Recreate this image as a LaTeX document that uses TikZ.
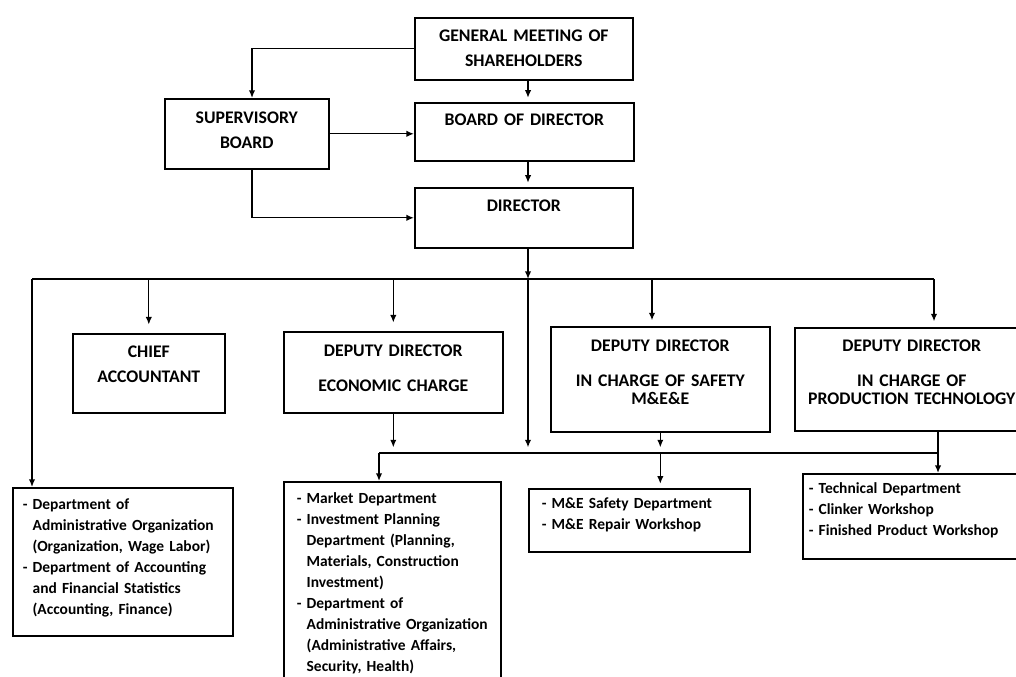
\documentclass[tikz,border=0pt]{standalone}
\usepackage{fontspec}
\setmainfont{Carlito}
\usetikzlibrary{arrows.meta,positioning}

\tikzset{
  orgbox/.style={draw=black,line width=1.1pt,anchor=north west,align=center,inner xsep=0pt,inner ysep=0pt,font=\fontsize{12.6}{17.8}\selectfont\bfseries},
  listbox/.style={draw=black,line width=1.1pt,anchor=north west,align=left,inner ysep=0pt,font=\fontsize{11}{14.9}\selectfont\bfseries},
  arr/.style={-{Latex[length=1.9mm,width=1.6mm]},line width=1pt},
  bus/.style={line width=1pt}
}

\begin{document}
\begin{tikzpicture}[x=0.025cm,y=-0.025cm]
\useasboundingbox (0,0) rectangle (1016,676);
\fill[white] (0,0) rectangle (1016,676);
\node[orgbox,text width=5.45cm,text height=0.6cm,text depth=0.95cm] (gms) at (414,17) {GENERAL MEETING OF\\SHAREHOLDERS};
\node[orgbox,text width=4.1cm,text height=0.625cm,text depth=1.125cm] (sup) at (164,98) {SUPERVISORY\\BOARD};
\node[orgbox,text width=5.475cm,text height=0.58cm,text depth=0.87cm] (bod) at (414,102) {BOARD OF DIRECTOR};
\node[orgbox,text width=5.45cm,text height=0.6cm,text depth=0.9cm] (dir) at (414,187) {DIRECTOR};
\node[orgbox,text width=3.8cm,text height=0.6cm,text depth=1.375cm] (chief) at (72,333) {CHIEF\\ACCOUNTANT};
\node[orgbox,text width=5.475cm,text height=0.625cm,text depth=1.4cm] (econ) at (283,331) {DEPUTY DIRECTOR\\[7.1pt]ECONOMIC CHARGE};
\node[orgbox,text width=5.475cm,text height=0.625cm,text depth=2.0cm] (safety) at (550,326) {DEPUTY DIRECTOR\\[7.1pt]IN CHARGE OF SAFETY\\[-5pt]M\&E\&E};
\node[orgbox,text width=5.85cm,text height=0.6cm,text depth=1.975cm] (prod) at (794,327) {DEPUTY DIRECTOR\\[7.1pt]IN CHARGE OF\\[-5pt]PRODUCTION TECHNOLOGY};
\node[listbox,inner xsep=0.25cm,text width=5.0cm,text height=0.54cm,text depth=3.16cm] (adminlist) at (12,487) {- Department of\\\hphantom{- }Administrative Organization\\\hphantom{- }(Organization, Wage Labor)\\- Department of Accounting\\\hphantom{- }and Financial Statistics\\\hphantom{- }(Accounting, Finance)};
\node[listbox,inner xsep=0.325cm,text width=4.775cm,text height=0.54cm,text depth=4.835cm] (econlist) at (283,481) {- Market Department\\- Investment Planning\\\hphantom{- }Department (Planning,\\\hphantom{- }Materials, Construction\\\hphantom{- }Investment)\\- Department of\\\hphantom{- }Administrative Organization\\\hphantom{- }(Administrative Affairs,\\\hphantom{- }Security, Health)};
\node[listbox,inner xsep=0.325cm,text width=4.875cm,text height=0.5cm,text depth=1.075cm] (safelist) at (528,488) {- M\&E Safety Department\\- M\&E Repair Workshop};
\node[listbox,inner xsep=0.15cm,text width=5.5cm,text height=0.5cm,text depth=1.625cm] (prodlist) at (802,473) {- Technical Department\\- Clinker Workshop\\- Finished Product Workshop};
\coordinate (spine) at (528,0);
\coordinate (supx) at (252,0);
\coordinate (safx) at (652,0);
\coordinate (busL) at (32,279);
\coordinate (busR) at (934,279);
\coordinate (lowL) at (379,453);
\coordinate (lowR) at (938,453);
\draw[arr] (gms.west) -| (sup.north -| supx);
\draw[arr,shorten >=3pt] (gms.south -| spine) -- (bod.north -| spine);
\draw[arr] (sup.east) -- (sup.east -| bod.west);
\draw[arr,shorten >=3pt] (bod.south -| spine) -- (dir.north -| spine);
\draw[arr] (sup.south -| supx) |- (dir.west);
\draw[bus] (busL) -- (busR);
\draw[arr] (dir.south -| spine) -- (busL -| spine);
\draw[arr] (busL) -- (busL |- adminlist.north);
\draw[arr,shorten >=6pt] (busL -| chief.north) -- (chief.north);
\draw[arr,shorten >=6pt] (busL -| econ.north) -- (econ.north);
\draw[arr,shorten >=4pt] (busL -| safx) -- (safety.north -| safx);
\draw[arr,shorten >=4pt] (busR) -- (busR |- prod.north);
\draw[arr,shorten >=4pt] (busL -| spine) -- (lowL -| spine);
\draw[bus] (lowL) -- (lowR);
\draw[arr,shorten >=4pt] (econ.south) -- (econ.south |- lowL);
\draw[arr,shorten >=4pt] (safety.south) -- (safety.south |- lowL);
\draw[bus] (prod.south -| lowR) -- (lowR);
\draw[arr] (lowL) -- (lowL |- econlist.north);
\draw[arr,shorten >=3pt] (safety.south |- lowL) -- (safety.south |- safelist.north);
\draw[arr] (lowR) -- (lowR |- prodlist.north);
\end{tikzpicture}
\end{document}
